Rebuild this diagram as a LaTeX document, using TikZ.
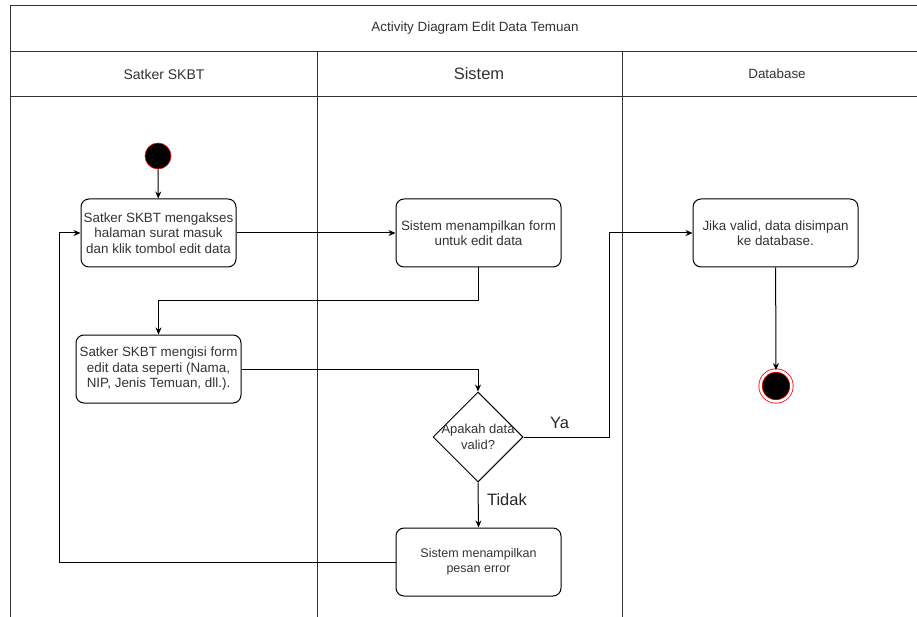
\documentclass[tikz,border=0pt]{standalone}
\usepackage{fontspec}
\setmainfont{Liberation Sans}
\usetikzlibrary{shapes.geometric, arrows.meta}
\tikzset{>={Stealth[length=7pt, width=6pt]}}

\begin{document}
\begin{tikzpicture}[x=1pt, y=-1pt, line width=1pt,
    lane/.style={line width=1pt, draw=black!80},
    act/.style={draw, rounded corners=8pt, minimum width=165pt, minimum height=68pt,
        align=center, inner sep=1pt, font=\fontsize{13.4}{15.5}\selectfont, text=black!80},
    decide/.style={draw, diamond, aspect=1, minimum size=90pt, inner sep=0pt},
    startdot/.style={circle, fill=black, draw=red, line width=0.6pt, minimum size=26pt, inner sep=0pt},
    enddot/.style={circle, fill=black, draw=red, double=white, double distance=2.5pt,
        line width=0.8pt, minimum size=31pt, inner sep=0pt},
    hdr/.style={font=\fontsize{13.4}{15}\selectfont, text=black!80},
    guard/.style={font=\fontsize{16.5}{18}\selectfont, text=black!85}]
    \useasboundingbox (0,0) rectangle (917,617);

    % swimlanes
    \draw[lane] (10,617) -- (10,6) -- (917,6);
    \draw[lane] (10,52) -- (917,52);
    \draw[lane] (10,97) -- (917,97);
    \draw[lane] (317,52) -- (317,617);
    \draw[lane] (622,52) -- (622,617);
    \node[hdr] (title) at (475,28) {Activity Diagram Edit Data Temuan};
    \node[hdr, font=\fontsize{14}{15}\selectfont] (satker) at (164,74) {Satker SKBT};
    \node[hdr, font=\fontsize{16.5}{18}\selectfont] (sistem) at (479,74) {Sistem};
    \node[hdr] (db) at (777,74) {Database};

    % activities
    \node[startdot] (start) at (158,156) {};
    \node[act, minimum width=155pt] (akses) at (158.5,233) {Satker SKBT mengakses\\halaman surat masuk\\dan klik tombol edit data};
    \node[act] (form) at (478.5,233) {Sistem menampilkan form\\untuk edit data};
    \node[act] (isi) at (158.5,369) {Satker SKBT mengisi form\\edit data seperti (Nama,\\NIP, Jenis Temuan, dll.).};
    \node[decide, label={[align=center, font=\fontsize{13}{15.5}\selectfont, text=black!80]center:Apakah data\\valid?}] (valid) at (478,437) {};
    \node[act] (simpan) at (775.5,233) {Jika valid, data disimpan\\ke database.};
    \node[act, font=\fontsize{12.5}{15.5}\selectfont] (error) at (478.5,562) {Sistem menampilkan\\pesan error};
    \node[enddot] (end) at (776,386) {};

    % flows
    \draw[->] (start) -- (akses);
    \draw[->] (akses) -- (form);
    \draw[->] (form.south) -- ++(0,33) -| (isi.north);
    \draw[->] (isi.east) -| (valid.north);
    \draw[->] (valid.east) -- node[guard, pos=0.42, above=5pt] {Ya} ++(86,0) |- (simpan.west);
    \draw[->] (valid.south) -- node[guard, right=5pt, yshift=5pt] {Tidak} (error.north);
    \draw[->] (error.west) -- ++(-336,0) |- (akses.west);
    \draw[->] (simpan) -- (end);
\end{tikzpicture}
\end{document}
